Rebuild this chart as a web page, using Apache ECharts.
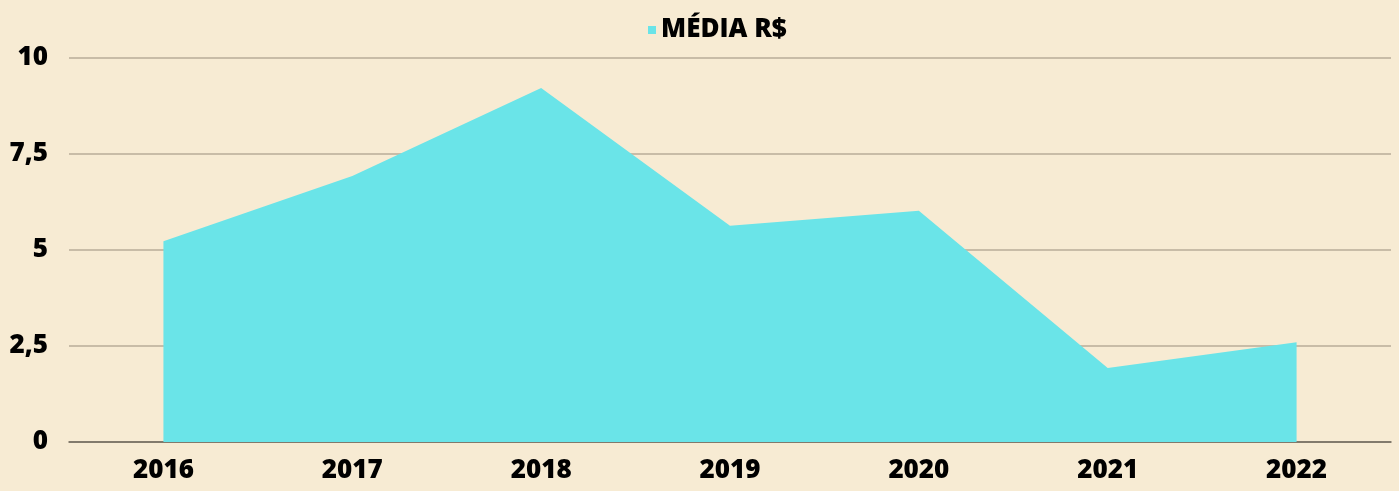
<!DOCTYPE html>
<html>
<head>
<meta charset="utf-8">
<script src="https://cdn.jsdelivr.net/npm/echarts@6/dist/echarts.min.js"></script>
<style>
  html, body { margin: 0; padding: 0; background: #f7ebd3; }
  #chart { width: 1399px; height: 491px; }
</style>
</head>
<body>
<div id="chart"></div>
<script>
// média por ano
const years = ['2016', '2017', '2018', '2019', '2020', '2021', '2022']
const media = [5.23, 6.93, 9.22, 5.63, 6.02, 1.93, 2.6]
const seriesName = 'MÉDIA R$'

const font = '"Open Sans", "DejaVu Sans", sans-serif'

const chart = echarts.init(document.getElementById('chart'))
chart.setOption({
    backgroundColor: '#f7ebd3',
    animation: false,
    legend: {
        data: [seriesName],
        top: 12,
        left: 643,
        itemWidth: 8,
        itemHeight: 8,
        itemGap: 9,
        icon: 'rect',
        textStyle: {
            fontFamily: font,
            fontWeight: 800,
            fontSize: 26,
            color: '#000'
        }
    },
    grid: {
        left: 69,
        right: 8,
        top: 58,
        bottom: 49
    },
    xAxis: {
        type: 'category',
        data: years,
        boundaryGap: true,
        axisTick: { show: false },
        axisLine: { lineStyle: { color: '#6b6459', width: 1.5 } },
        axisLabel: {
            margin: 16,
            fontFamily: font,
            fontWeight: 800,
            fontSize: 26,
            color: '#000'
        }
    },
    yAxis: {
        type: 'value',
        min: 0,
        max: 10,
        interval: 2.5,
        axisLine: { show: false },
        axisTick: { show: false },
        splitLine: { lineStyle: { color: '#b9ad99', width: 1.5 } },
        axisLabel: {
            margin: 21,
            fontFamily: font,
            fontWeight: 800,
            fontSize: 26,
            color: '#000',
            formatter: v => String(v).replace('.', ',')
        }
    },
    series: [
        {
            name: seriesName,
            type: 'line',
            data: media,
            showSymbol: false,
            symbol: 'none',
            itemStyle: { color: '#6ae4e8' },
            lineStyle: { width: 0 },
            areaStyle: { color: '#6ae4e8', opacity: 1 }
        }
    ]
})
</script>
</body>
</html>
